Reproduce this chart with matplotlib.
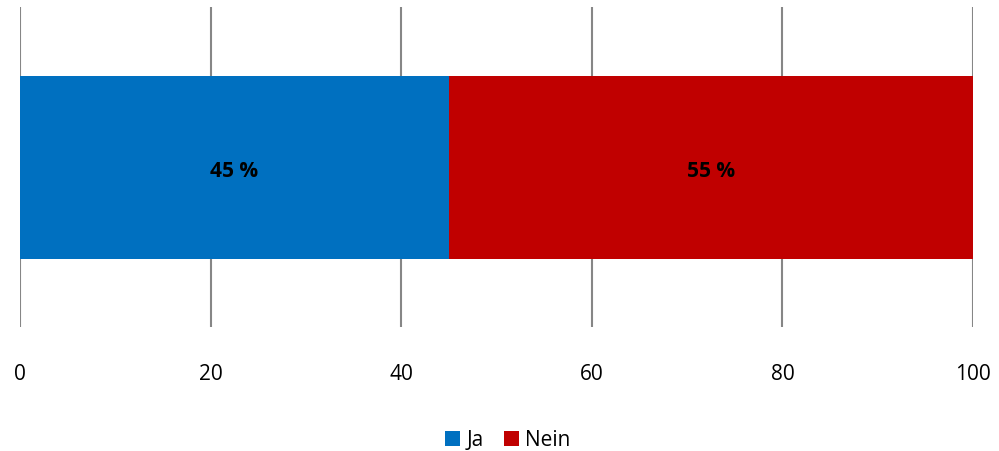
import matplotlib.pyplot as plt

plt.rcParams['font.family'] = ['Open Sans', 'DejaVu Sans']

# data
labels = ['Ja', 'Nein']
values = [45, 55]
colors = ['#0070C0', '#C00000']
ticks = [0, 20, 40, 60, 80, 100]

fig = plt.figure(figsize=(9.99, 4.52), dpi=100)
ax = fig.add_axes([20 / 999, 1 - 328 / 452, 953 / 999, 320 / 452])

left = 0
for lab, val, col in zip(labels, values, colors):
    ax.barh(0, val, left=left, height=0.572, color=col, label=lab, zorder=3)
    ax.text(left + val / 2, 0.0, f'{val} %', ha='center', va='center_baseline',
            fontsize=15, fontweight='bold', color='black', zorder=4)
    left += val

ax.set_xlim(0, 100)
ax.set_ylim(-0.497, 0.503)
ax.set_xticks(ticks)
ax.set_yticks([])
ax.grid(axis='x', color='#868686', linewidth=1.5, zorder=0)
for s in ax.spines.values():
    s.set_visible(False)
ax.tick_params(axis='x', length=0, pad=26, labelsize=15)

fig.legend(loc='center', bbox_to_anchor=(508 / 999, 1 - 441 / 452), ncol=2,
           frameon=False, fontsize=15, handlelength=0.7, handleheight=0.7,
           handletextpad=0.3, columnspacing=1.0)

fig.savefig('out.png', dpi=100)
